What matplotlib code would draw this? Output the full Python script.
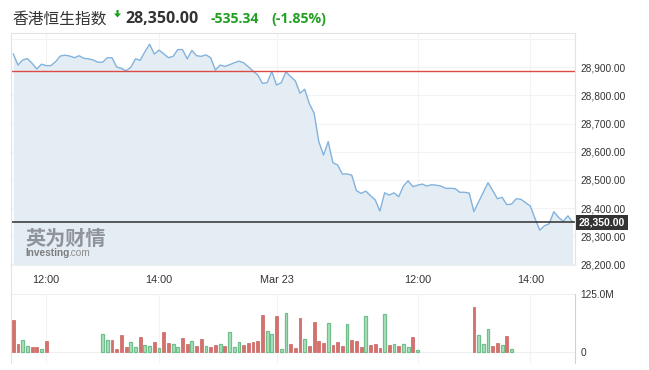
import numpy as np
import matplotlib.pyplot as plt
from matplotlib.lines import Line2D
from matplotlib.patches import FancyArrow
from matplotlib.transforms import blended_transform_factory

# =====================
# 1. 数据
# =====================
title = "香港恒生指数"
last_text = "28,350.00"
change_text = "-535.34"
change_pct_text = "(-1.85%)"
prev_close = 28885.34
last_value = 28350.00

# 5-minute slots: Mar 22 11:25-16:00, Mar 23 09:30-14:45
day1 = ("03-22", "11:25", "16:00")
day2 = ("03-23", "09:30", "14:45")

price = [
    28947, 28908, 28926, 28931, 28914, 28894, 28911, 28906, 28906, 28920,
    28940, 28943, 28940, 28934, 28941, 28932, 28930, 28926, 28918, 28918,
    28934, 28934, 28901, 28896, 28888, 28900, 28930, 28925, 28955, 28982,
    28947, 28961, 28948, 28934, 28939, 28963, 28963, 28930, 28960, 28941,
    28939, 28944, 28934, 28890, 28908, 28903, 28909, 28916, 28922, 28916,
    28902, 28887, 28873, 28843, 28845, 28885,
    28837, 28845, 28884, 28867, 28852, 28808, 28822, 28770, 28737, 28636,
    28588, 28636, 28561, 28553, 28521, 28521, 28517, 28462, 28452, 28460,
    28444, 28429, 28389, 28454, 28446, 28454, 28440, 28478, 28497, 28476,
    28481, 28485, 28478, 28483, 28481, 28478, 28470, 28470, 28469, 28456,
    28456, 28453, 28387, 28422, 28456, 28490, 28462, 28433, 28438, 28412,
    28414, 28433, 28431, 28419, 28407, 28363, 28321, 28337, 28344, 28387,
    28367, 28353, 28372, 28350,
]

# volume (millions), R = red bar, G = green bar
vol_0322_am = [69.4, 16.1, 25.6, 11.7, 10.2, 10.2, 5.1, 23.4]
col_0322_am = "RRGGRRGR"
vol_0322_pm = [38.0, 25.6, 25.6, 5.8, 36.6, 10.2, 20.5, 10.2, 32.2, 14.6,
               12.4, 21.2, 7.3, 43.1, 19.0, 16.1, 10.2, 30.0, 16.8, 23.4,
               12.4, 27.8, 12.4, 10.2, 14.6, 16.8, 12.4, 43.1, 10.2, 21.2,
               14.6, 19.0, 21.2, 23.4, 80.4, 45.3, 38.7]
col_0322_pm = "GGRRRRGGRGGRGRRGGRRGRRGRRGRGGGRRRRRGG"
vol_0323_am = [78.2, 5.8, 84.8, 16.8, 8.0, 73.8, 27.8, 12.4, 65.1, 23.4,
               19.0, 62.9, 14.6, 21.2, 12.4, 60.7, 25.6, 23.4, 10.2, 78.2,
               14.6, 16.8, 8.0, 82.6, 14.6, 16.8, 12.4, 16.8, 10.2, 32.2, 3.7]
col_0323_am = "RGGRRRGRRRRGRRRGRRRGRRRGRGRGGRG"
vol_0323_pm = [95.8, 36.6, 16.8, 49.7, 12.4, 19.0, 14.6, 34.4, 5.8]
col_0323_pm = "RGGGRRGRG"

vol_sessions = [
    ("03-22", "11:25", vol_0322_am, col_0322_am),
    ("03-22", "13:00", vol_0322_pm, col_0322_pm),
    ("03-23", "09:30", vol_0323_am, col_0323_am),
    ("03-23", "13:00", vol_0323_pm, col_0323_pm),
]

tick_times = [("03-22", "12:00"), ("03-22", "14:00"), ("03-23", "09:30"),
              ("03-23", "12:00"), ("03-23", "14:00")]
tick_labels = ["12:00", "14:00", "Mar 23", "12:00", "14:00"]

price_ticks = list(range(28200, 29001, 100))
vol_ticks = [0, 125]
vol_tick_labels = ["0", "125.0M"]


# =====================
# 2. 时间槽
# =====================
def to_min(s):
    h, m = s.split(":")
    return int(h) * 60 + int(m)


def make_slots(day, start, end):
    return [(day, "%02d:%02d" % divmod(m, 60))
            for m in range(to_min(start), to_min(end) + 1, 5)]


slots = make_slots(*day1) + make_slots(*day2)
slot_index = {s: i for i, s in enumerate(slots)}
x = np.arange(len(price))

# =====================
# 3. 画图
# =====================
W, H = 649, 370
fig = plt.figure(figsize=(W / 100, H / 100), dpi=100)

left, right = 11, 575.3
ax = fig.add_axes([left / W, 1 - 265 / H, (right - left) / W, (265 - 33.3) / H])
axv = fig.add_axes([left / W, 1 - 363 / H, (right - left) / W, (363 - 294) / H])

xlim = (-0.49, 119.57)
ylim = (28197.6, 29020.8)
tick_font = dict(family="Liberation Sans", color="#333333")

# price panel
ax.set_xlim(*xlim)
ax.set_ylim(*ylim)
ax.fill_between(x, price, ylim[0], color="#e4edf3", lw=0)
ax.plot(x, price, color="#82b2de", lw=1.0)
ax.axhline(prev_close, color="#dc4a45", lw=1.0)
ax.axhline(last_value, color="#2e2e2e", lw=1.1)

ax.set_yticks(price_ticks)
ax.set_yticklabels(["" if v == 29000 else f"{v:,.2f}" for v in price_ticks],
                   fontsize=7.3, **tick_font)
ax.yaxis.tick_right()
ax.tick_params(axis="y", length=0, pad=3.5)

tick_pos = [slot_index[t] for t in tick_times]
ax.set_xticks(tick_pos)
ax.set_xticklabels(tick_labels, fontsize=7.8, **tick_font)
ax.tick_params(axis="x", length=0, pad=7.5)
ax.grid(True, color="#f3f3f3", lw=0.8)
ax.set_axisbelow(True)
for side in ["left", "top", "right"]:
    ax.spines[side].set_color("#e3e3e3")
ax.spines["bottom"].set_color("#eeeeee")

# current price tag
trans = blended_transform_factory(ax.transAxes, ax.transData)
ax.annotate(last_text, xy=(1, last_value), xycoords=trans,
            xytext=(2.5, 0), textcoords="offset points",
            ha="left", va="center", fontsize=7.5, fontweight="bold",
            family="Liberation Sans", color="white", annotation_clip=False,
            bbox=dict(boxstyle="square,pad=0.25", fc="#333333", ec="none"))

# watermark
ax.text(0.025, 0.114, "英为财情", transform=ax.transAxes, fontsize=14.5,
        fontweight="bold", family="Noto Sans CJK SC", color="#858a90",
        va="center", ha="left", alpha=0.9)
ax.text(0.025, 0.052, "Investing", transform=ax.transAxes, fontsize=7.3,
        fontweight="bold", family="Liberation Sans", color="#7d7d7d",
        va="center", ha="left")
ax.text(0.101, 0.052, ".com", transform=ax.transAxes, fontsize=7.3,
        family="Liberation Sans", color="#8d8d8d", va="center", ha="left")

# volume panel
axv.set_xlim(*xlim)
axv.set_ylim(-24.5, 125)
for day, start, vals, cols in vol_sessions:
    i0 = slot_index[(day, start)]
    for j, (v, c) in enumerate(zip(vals, cols)):
        if c == "R":
            axv.bar(i0 + j, v, width=0.6, color="#d4716d",
                    edgecolor="#c9625e", lw=0.5)
        else:
            axv.bar(i0 + j, v, width=0.6, color="#aee0bd",
                    edgecolor="#6fbf8c", lw=0.9)
axv.axhline(0, color="#efefef", lw=0.8, zorder=0)
axv.axhline(125, color="#efefef", lw=0.8, zorder=0)
axv.set_xticks(tick_pos)
axv.set_xticklabels([])
axv.tick_params(axis="x", length=0)
axv.grid(True, axis="x", color="#f3f3f3", lw=0.8)
axv.set_axisbelow(True)
axv.set_yticks(vol_ticks)
axv.set_yticklabels(vol_tick_labels, fontsize=7.3, **tick_font)
axv.yaxis.tick_right()
axv.tick_params(axis="y", length=0, pad=3.5)
axv.spines["top"].set_visible(False)
axv.spines["bottom"].set_visible(False)
axv.spines["left"].set_color("#e3e3e3")
axv.spines["right"].set_color("#c9d2df")

# left border across the time label band
fig.add_artist(Line2D([left / W, left / W], [1 - 294 / H, 1 - 265 / H],
                      color="#e3e3e3", lw=0.8))

# header
fig.text(12 / W, 1 - 19 / H, title, family="Noto Sans CJK SC", fontsize=11.3,
         color="#333333", ha="left", va="center")
fig.add_artist(FancyArrow(1.175, (H - 10) / 100, 0, -0.075, width=0.022,
                          head_width=0.07, head_length=0.04,
                          length_includes_head=True, color="#1e9e1e",
                          lw=0, transform=fig.dpi_scale_trans))
fig.text(125 / W, 1 - 19 / H, last_text, family="Open Sans", fontsize=11.5,
         fontweight="bold", color="#333333", ha="left", va="center")
fig.text(210.5 / W, 1 - 19 / H, change_text, family="Open Sans", fontsize=10.2,
         fontweight="bold", color="#22a022", ha="left", va="center")
fig.text(271.5 / W, 1 - 19 / H, change_pct_text, family="Open Sans",
         fontsize=10.2, fontweight="bold", color="#22a022", ha="left",
         va="center")

fig.savefig("out.png", dpi=100)
